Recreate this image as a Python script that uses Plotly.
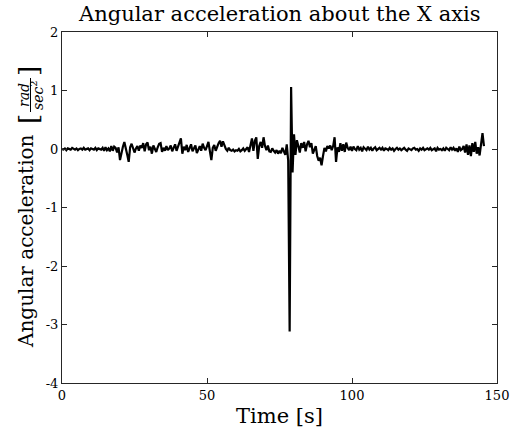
import numpy as np
import plotly.graph_objects as go

# ---------------- data ----------------
dt = 0.5  # sampling step [s]
accel_x = [
    # t 0-10
    0.00,-0.01,0.01,-0.02,0.01,0.00,-0.01,0.02,0.00,-0.01, 0.01,-0.02,0.00,0.01,-0.01,0.02,-0.01,0.00,0.01,-0.02,
    # t 10-20
    0.01,0.00,-0.01,0.02,-0.02,0.01,0.00,-0.01,0.02,-0.03, 0.03,-0.02,0.01,-0.04,0.05,-0.03,0.04,0.02,-0.06,0.03,
    # t 20-30
    -0.19,-0.05,0.04,0.12,-0.02,-0.10,-0.22,0.03,0.09,0.02, -0.06,0.01,0.05,-0.03,0.06,0.02,0.10,-0.04,0.08,0.11,
    # t 30-40
    -0.02,0.04,-0.08,0.06,0.01,-0.05,0.03,0.09,0.10,-0.05, 0.02,-0.03,0.05,-0.02,0.01,0.06,-0.04,0.02,0.08,-0.03,
    # t 40-50
    0.03,0.10,0.18,-0.08,0.04,-0.02,0.07,-0.05,0.03,0.08, -0.04,0.02,0.06,-0.07,0.01,0.05,-0.03,0.09,0.02,-0.02,
    # t 50-60
    0.05,0.12,-0.04,-0.19,0.02,0.07,-0.03,0.05,0.10,0.14, 0.04,0.13,0.06,0.00,-0.03,0.02,-0.02,-0.03,-0.01,-0.04,
    # t 60-70
    -0.02,-0.03,0.00,-0.04,-0.02,0.01,-0.03,0.00,0.03,-0.05, 0.08,0.18,-0.03,0.14,0.20,-0.17,0.05,0.12,0.02,0.20,
    # t 70-80
    0.05,-0.02,0.06,-0.04,-0.05,0.01,-0.03,-0.06,-0.02,-0.08, -0.03,-0.07,0.02,-0.05,-0.10,0.08,-0.20,-3.12,1.06,-0.40,
    # t 80-90
    0.25,-0.10,0.15,0.05,-0.06,0.10,0.02,0.12,-0.04,0.08, 0.14,0.03,0.10,-0.08,-0.02,0.05,-0.12,-0.20,-0.15,-0.28,
    # t 90-100
    -0.12,0.02,-0.04,0.05,0.01,0.06,-0.02,0.05,0.20,-0.22, 0.03,-0.05,0.10,-0.03,0.08,-0.05,0.11,0.02,-0.02,0.04,
    # t 100-110
    -0.03,0.04,0.00,-0.02,0.05,-0.01,0.02,-0.04,0.03,0.00, -0.02,0.04,-0.01,0.02,-0.03,0.01,0.03,-0.02,0.00,0.02,
    # t 110-120
    -0.01,0.02,-0.03,0.01,0.00,-0.02,0.02,-0.01,0.01,-0.03, 0.00,0.02,-0.01,0.01,-0.02,0.00,0.02,-0.01,-0.03,0.01,
    # t 120-130
    0.00,-0.02,0.01,0.02,-0.01,0.00,-0.03,0.01,-0.01,0.02, -0.02,0.00,0.01,-0.01,0.02,-0.02,0.00,0.01,-0.04,0.02,
    # t 130-140
    -0.01,0.00,-0.02,0.01,-0.03,0.02,0.00,-0.02,0.03,-0.01, 0.02,-0.03,0.01,-0.05,0.04,-0.02,0.00,0.05,-0.06,0.08,
    # t 140-145.5
    -0.10,0.06,-0.12,0.10,-0.05,0.12,-0.08,0.03,-0.11,0.09, 0.27,0.05,
]
time_s = np.arange(len(accel_x)) * dt

x_ticks = [0, 50, 100, 150]
x_tick_labels = ["0", "50", "100", "150"]
y_ticks = [-4, -3, -2, -1, 0, 1, 2]
y_tick_labels = ["-4", "-3", "-2", "-1", "0", "1", "2"]

title_text = "Angular acceleration about the X axis"
x_label = "Time [s]"
y_label = "Angular acceleration"

# ---------------- layout geometry ----------------
W, H = 510, 440
L, R, T, B = 62, 13, 32, 57
FONT = "DejaVu Serif"
AX = "#262626"


def px(xp):
    return (xp - L) / (W - L - R)


def py(yp):
    return (H - B - yp) / (H - T - B)


fig = go.Figure()
fig.add_trace(go.Scatter(x=time_s, y=accel_x, mode="lines",
                         line=dict(color="black", width=2.2), showlegend=False,
                         hoverinfo="skip"))

axis_common = dict(showgrid=False, zeroline=False, showline=True, linecolor=AX,
                   linewidth=1, mirror="ticks", ticks="inside", ticklen=5,
                   tickcolor=AX, tickwidth=1, automargin=False,
                   tickfont=dict(family=FONT, size=13, color="black"))

fig.update_xaxes(range=[0, 150], tickvals=x_ticks, ticktext=x_tick_labels, **axis_common)
fig.update_yaxes(range=[-4, 2], tickvals=y_ticks, ticktext=y_tick_labels, **axis_common)

ann = []
ann.append(dict(text=title_text, x=px(279.5), y=py(14), xref="paper", yref="paper",
                xanchor="center", yanchor="middle", showarrow=False,
                font=dict(family=FONT, size=21, color="black")))
ann.append(dict(text=x_label, x=px(279.5), y=py(416), xref="paper", yref="paper",
                xanchor="center", yanchor="middle", showarrow=False,
                font=dict(family=FONT, size=21, color="black")))
ann.append(dict(text=y_label, x=px(26), y=py(241), xref="paper", yref="paper",
                xanchor="center", yanchor="middle", textangle=-90, showarrow=False,
                font=dict(family=FONT, size=20, color="black")))
# bracketed fraction  [ rad / sec^2 ]
ann.append(dict(text="[", x=px(29), y=py(119), xref="paper", yref="paper",
                xanchor="center", yanchor="middle", textangle=-90, showarrow=False,
                font=dict(family=FONT, size=26, color="black")))
ann.append(dict(text="]", x=px(29), y=py(71), xref="paper", yref="paper",
                xanchor="center", yanchor="middle", textangle=-90, showarrow=False,
                font=dict(family=FONT, size=26, color="black")))
ann.append(dict(text="<i>rad</i>", x=px(24), y=py(95), xref="paper", yref="paper",
                xanchor="center", yanchor="middle", textangle=-90, showarrow=False,
                font=dict(family=FONT, size=14, color="black")))
ann.append(dict(text="<i>sec</i><sup>2</sup>", x=px(37), y=py(95), xref="paper", yref="paper",
                xanchor="center", yanchor="middle", textangle=-90, showarrow=False,
                font=dict(family=FONT, size=14, color="black")))

fig.add_shape(type="line", xref="paper", yref="paper", x0=px(30.5), x1=px(30.5),
              y0=py(78), y1=py(112), line=dict(color="black", width=1))

fig.update_layout(width=W, height=H, margin=dict(l=L, r=R, t=T, b=B),
                  paper_bgcolor="white", plot_bgcolor="white", annotations=ann,
                  font=dict(family=FONT, color="black"))

fig.write_html("out.html")
